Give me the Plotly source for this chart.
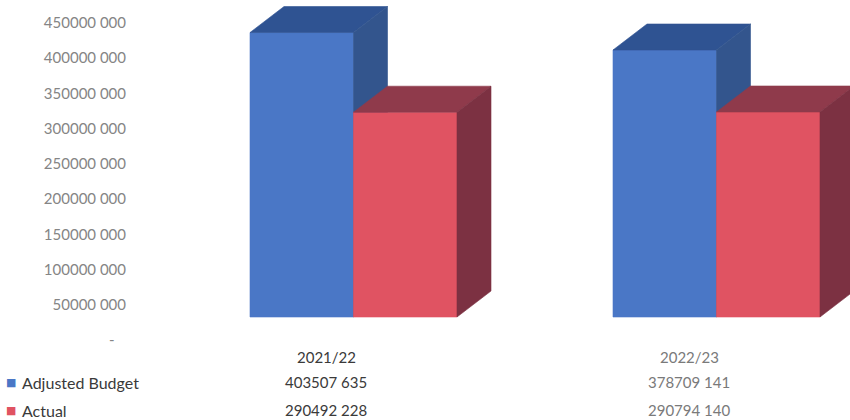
import plotly.graph_objects as go

# ---- data ----
categories = ["2021/22", "2022/23"]
series_names = ["Adjusted Budget", "Actual"]
adjusted_budget = [403507635, 378709141]
actual = [290492228, 290794140]
value_labels = {
    "Adjusted Budget": ["403507 635", "378709 141"],
    "Actual": ["290492 228", "290794 140"],
}
tick_values = [0, 50e6, 100e6, 150e6, 200e6, 250e6, 300e6, 350e6, 400e6, 450e6]
tick_labels = ["-\u00a0\u00a0\u00a0", "50000 000", "100000 000", "150000 000", "200000 000",
               "250000 000", "300000 000", "350000 000", "400000 000", "450000 000"]

# ---- styling / geometry ----
W, H = 850, 420
ML = 127
PX_PER_CAT = 363.0          # px between categories
CAT0_PX = 326.0             # px of first category column
PX_PER_VAL = 35.25 / 50e6   # px per unit value
BAR_ZERO_PX = 317.0         # y px of bar base (front face)
AXIS_ZERO_PX = 340.0        # y px of axis zero label
BAR_W = 103.5 / PX_PER_CAT
OFFSETS = [-76.0 / PX_PER_CAT, 27.5 / PX_PER_CAT]
DX = 34.0 / PX_PER_CAT
DY = 26.0 / PX_PER_VAL

front_cols = ["#4a77c6", "#e05362"]
top_cols = ["#2f5392", "#8f3a4b"]
side_cols = ["#33558d", "#7c3142"]
text_dark = "#3a3a3a"
text_light = "#7a7a7a"
tick_col = "#858585"
FONT = "Lato"

series_vals = [adjusted_budget, actual]

fig = go.Figure()

# invisible anchor trace so the labelled value axis is drawn
fig.add_trace(go.Scatter(x=[0], y=[0], mode="markers", marker=dict(opacity=0),
                         yaxis="y", hoverinfo="skip", showlegend=False))


def poly(xs, ys, color):
    fig.add_trace(go.Scatter(
        x=xs + [xs[0]], y=ys + [ys[0]], mode="lines", fill="toself",
        fillcolor=color, line=dict(color=color, width=0.6),
        yaxis="y2", hoverinfo="skip", showlegend=False))


for ci, cat in enumerate(categories):
    for si, vals in enumerate(series_vals):
        v = vals[ci]
        x0 = ci + OFFSETS[si]
        x1 = x0 + BAR_W
        # front face
        poly([x0, x1, x1, x0], [0, 0, v, v], front_cols[si])
        # top face
        poly([x0, x1, x1 + DX, x0 + DX], [v, v, v + DY, v + DY], top_cols[si])
        # side face
        poly([x1, x1 + DX, x1 + DX, x1], [0, DY, v + DY, v], side_cols[si])

plot_w = W - ML
x_range = [(ML - CAT0_PX) / PX_PER_CAT, (W - CAT0_PX) / PX_PER_CAT]
y2_range = [(BAR_ZERO_PX - H) / PX_PER_VAL, BAR_ZERO_PX / PX_PER_VAL]
y_range = [(AXIS_ZERO_PX - H) / PX_PER_VAL, AXIS_ZERO_PX / PX_PER_VAL]

annotations = []
row_y_px = {"header": 357, "Adjusted Budget": 382, "Actual": 410}
for ci, cat in enumerate(categories):
    col = text_dark if ci == 0 else text_light
    annotations.append(dict(x=ci, y=1 - row_y_px["header"] / H, xref="x", yref="paper",
                            text=cat, showarrow=False, xanchor="center", yanchor="middle",
                            font=dict(family=FONT, size=15, color=col)))
    for name in series_names:
        annotations.append(dict(x=ci, y=1 - row_y_px[name] / H, xref="x", yref="paper",
                                text=value_labels[name][ci], showarrow=False,
                                xanchor="center", yanchor="middle",
                                font=dict(family=FONT, size=15, color=col)))
for si, name in enumerate(series_names):
    yy = 1 - row_y_px[name] / H
    annotations.append(dict(x=(20 - ML) / plot_w, y=yy, xref="paper", yref="paper",
                            text=name, showarrow=False, xanchor="left", yanchor="middle",
                            font=dict(family=FONT, size=16, color=text_dark)))
    annotations.append(dict(x=(11 - ML) / plot_w, y=yy, xref="paper", yref="paper",
                            text="■", showarrow=False, xanchor="center", yanchor="middle",
                            font=dict(family="DejaVu Sans", size=11, color=front_cols[si])))

fig.update_layout(
    width=W, height=H,
    margin=dict(l=ML, r=0, t=0, b=0),
    paper_bgcolor="white", plot_bgcolor="white",
    showlegend=False,
    xaxis=dict(range=x_range, visible=False, fixedrange=True),
    yaxis=dict(range=y_range, tickvals=tick_values, ticktext=tick_labels,
               showgrid=False, zeroline=False, showline=False, ticks="",
               tickfont=dict(family=FONT, size=15, color=tick_col)),
    yaxis2=dict(range=y2_range, overlaying="y", visible=False),
    annotations=annotations,
)

fig.write_html("out.html")
